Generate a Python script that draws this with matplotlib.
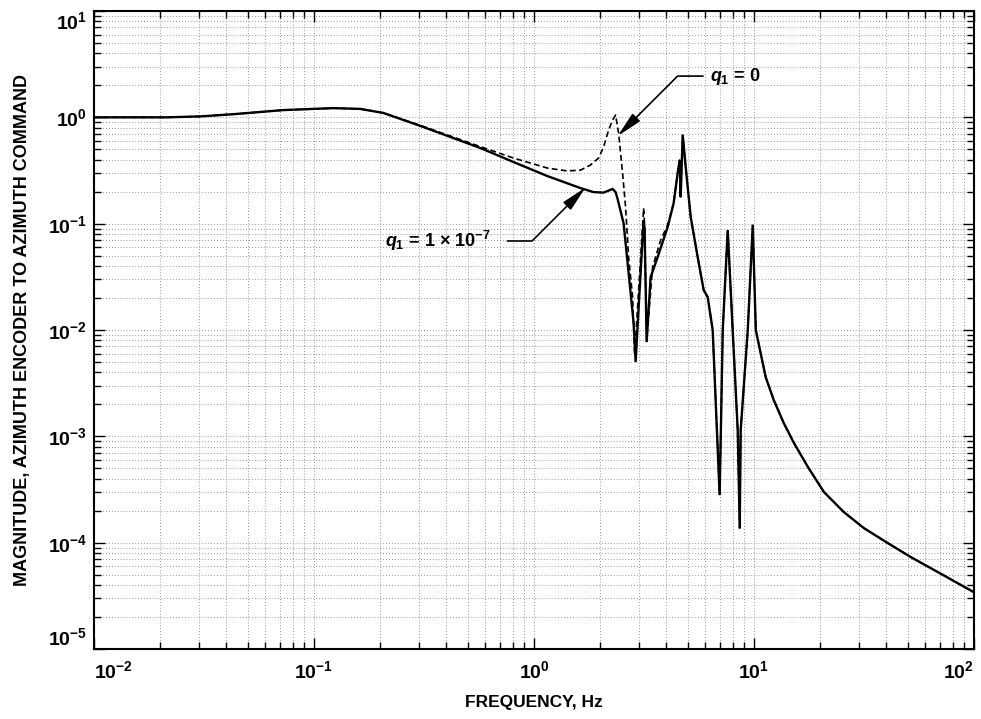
import matplotlib
matplotlib.use('Agg')
import matplotlib.pyplot as plt
from matplotlib.ticker import LogLocator, NullFormatter

# ---------------- data ----------------
solid_freq = [0.01, 0.0215, 0.0304, 0.0429, 0.0725, 0.1224, 0.1624, 0.2066, 0.3045,
              0.571, 0.807, 1.152, 1.628, 1.866, 2.072, 2.277, 2.349, 2.40, 2.554,
              2.692, 2.837, 2.897, 2.990, 3.150, 3.183, 3.251, 3.389, 3.648, 4.050,
              4.313, 4.498, 4.594, 4.642, 4.741, 4.893, 5.156, 5.546, 5.906, 6.159,
              6.49, 6.98, 7.21, 7.596, 8.0, 8.433, 8.612, 8.70, 9.367, 9.87, 10.19,
              11.3, 12.3, 13.66, 15.2, 17.6, 20.8, 25.6, 31.6, 40.6, 51.7, 68.6,
              90.1, 100.0]
solid_mag = [1.0, 1.0, 1.02, 1.07, 1.17, 1.22, 1.2, 1.1, 0.83,
             0.514, 0.38, 0.28, 0.216, 0.198, 0.196, 0.212, 0.198, 0.17, 0.101,
             0.0343, 0.0116, 0.0050, 0.0164, 0.108, 0.0871, 0.0077, 0.0314, 0.0485, 0.0929,
             0.156, 0.299, 0.397, 0.178, 0.682, 0.341, 0.1153, 0.0485, 0.0237, 0.0204,
             0.00998, 0.00028, 0.00998, 0.0871, 0.00998, 0.00114, 0.000137, 0.00114, 0.00998, 0.097, 0.00998,
             0.00361, 0.00219, 0.00133, 0.000863, 0.000513, 0.000299, 0.000194, 0.000137, 9.9e-5, 7.3e-5, 5.28e-5,
             3.85e-5, 3.42e-5]

dashed_freq_head = [0.01, 0.0215, 0.0304, 0.0429, 0.0725, 0.1224, 0.1624, 0.2066, 0.3045,
                    0.571, 0.807, 1.152, 1.420, 1.628, 1.807, 1.966, 2.072, 2.183, 2.277,
                    2.349, 2.424, 2.527, 2.608, 2.692, 2.807, 2.866, 2.990, 3.150, 3.183,
                    3.251, 3.461, 3.765, 4.050, 4.313]
dashed_mag_head = [1.0, 1.0, 1.02, 1.07, 1.17, 1.22, 1.2, 1.1, 0.84,
                   0.53, 0.414, 0.333, 0.313, 0.319, 0.356, 0.414, 0.526, 0.760, 0.943,
                   1.051, 0.712, 0.299, 0.143, 0.0485, 0.0204, 0.0058, 0.0237, 0.140, 0.097,
                   0.0080, 0.0391, 0.0701, 0.097, 0.156]
# above ~4.4 Hz the q1 = 0 response coincides with the q1 = 1e-7 response
dashed_freq = dashed_freq_head + [f for f in solid_freq if f > 4.4]
dashed_mag = dashed_mag_head + [m for f, m in zip(solid_freq, solid_mag) if f > 4.4]

label_q0 = r'$q_1$ = 0'
label_q7 = r'$q_1$ = 1 × 10$^{-7}$'
tip_q0 = (2.40, 0.667)
tip_q7 = (1.716, 0.219)
xlabel = 'FREQUENCY, Hz'
ylabel = 'MAGNITUDE, AZIMUTH ENCODER TO AZIMUTH COMMAND'
xlim = (1e-2, 1e2)
ylim = (1e-5, 1e1)

# ---------------- style ----------------
plt.rcParams['font.family'] = ['Liberation Sans', 'DejaVu Sans']
plt.rcParams['font.weight'] = 'bold'
plt.rcParams['mathtext.fontset'] = 'custom'
plt.rcParams['mathtext.rm'] = 'Liberation Sans:bold'
plt.rcParams['mathtext.it'] = 'Liberation Sans:italic:bold'
plt.rcParams['mathtext.bf'] = 'Liberation Sans:bold'

fig = plt.figure(figsize=(9.81, 7.19), dpi=100)
ax = fig.add_axes([94 / 981, 1 - 649 / 719, 880 / 981, 638 / 719])

ax.loglog(solid_freq, solid_mag, color='black', lw=1.7, solid_joinstyle='miter')
ax.loglog(dashed_freq, dashed_mag, color='black', lw=1.2, ls=(0, (3.5, 2.0)))

ax.set_xlim(*xlim)
ax.set_ylim(*ylim)

for axis in (ax.xaxis, ax.yaxis):
    axis.set_major_locator(LogLocator(base=10, numticks=20))
    axis.set_minor_locator(LogLocator(base=10, subs=range(2, 10), numticks=200))
    axis.set_minor_formatter(NullFormatter())

ax.grid(which='both', ls=(0, (1, 2.5)), lw=0.6, color='0.45')
ax.tick_params(which='both', direction='in', top=True, right=True, width=1.0)
ax.tick_params(which='major', length=8, labelsize=14)
ax.tick_params(axis='y', which='major', pad=5)
ax.tick_params(axis='x', which='major', pad=8)
ax.tick_params(which='minor', length=5)
for s in ax.spines.values():
    s.set_linewidth(1.5)

ax.set_xlabel(xlabel, fontsize=12.5, fontweight='bold')
ax.set_ylabel(ylabel, fontsize=13, fontweight='bold')
ax.xaxis.set_label_coords(0.5, -0.072)
ax.yaxis.set_label_coords(-0.072, 0.5)

ax.annotate(label_q0, xy=tip_q0, xycoords='data',
            xytext=(0.700, 0.898), textcoords='axes fraction',
            ha='left', va='center', fontsize=13,
            arrowprops=dict(arrowstyle='-|>,head_length=1.2,head_width=0.25',
                            color='black', lw=1.2, shrinkA=3, shrinkB=0,
                            relpos=(0, 0.5),
                            connectionstyle='angle,angleA=0,angleB=45,rad=0'))
ax.annotate(label_q7, xy=tip_q7, xycoords='data',
            xytext=(0.451, 0.6395), textcoords='axes fraction',
            ha='right', va='center', fontsize=13,
            arrowprops=dict(arrowstyle='-|>,head_length=1.2,head_width=0.25',
                            color='black', lw=1.2, shrinkA=10, shrinkB=0,
                            relpos=(1, 0.5),
                            connectionstyle='angle,angleA=0,angleB=45,rad=0'))

# end tick labels are pulled inside the frame, as in the reference
fig.canvas.draw()
for t in ax.xaxis.get_major_ticks():
    loc = t.get_loc()
    if abs(loc - xlim[0]) / xlim[0] < 1e-6:
        t.label1.set_horizontalalignment('left')
    elif abs(loc - xlim[1]) / xlim[1] < 1e-6:
        t.label1.set_horizontalalignment('right')
for t in ax.yaxis.get_major_ticks():
    loc = t.get_loc()
    if abs(loc - ylim[0]) / ylim[0] < 1e-6:
        t.label1.set_verticalalignment('bottom')
    elif abs(loc - ylim[1]) / ylim[1] < 1e-6:
        t.label1.set_verticalalignment('top')

fig.savefig('out.png', dpi=100)
